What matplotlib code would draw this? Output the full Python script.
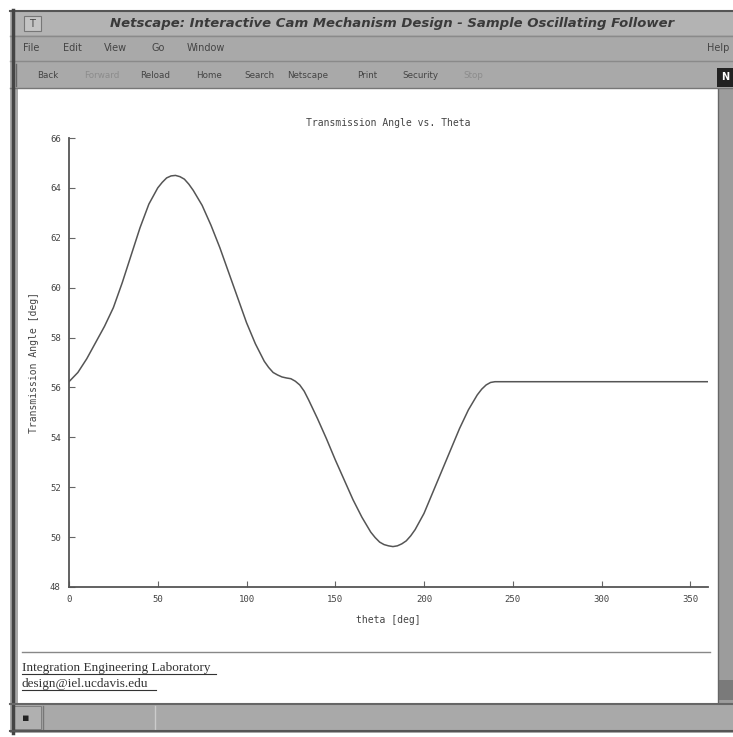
import matplotlib
matplotlib.use("Agg")
import matplotlib.pyplot as plt
from matplotlib.patches import Rectangle

# Transmission angle vs theta
theta = [0, 5, 10, 15, 20, 25, 30, 35, 40, 45, 50, 52.5, 55, 57.5, 60, 62.5,
         65, 67.5, 70, 75, 80, 85, 90, 95, 100, 105, 110, 112.5, 115, 117.5,
         120, 122.5, 125, 127.5, 130, 132.5, 135, 140, 145, 150, 155, 160,
         165, 170, 172.5, 175, 177.5, 180, 182.5, 185, 187.5, 190, 192.5,
         195, 200, 205, 210, 215, 220, 225, 230, 232.5, 235, 237.5, 240, 360]
angle = [56.23, 56.6, 57.15, 57.8, 58.45, 59.2, 60.2, 61.3, 62.4, 63.35,
         64.0, 64.22, 64.4, 64.48, 64.5, 64.45, 64.35, 64.15, 63.9, 63.3,
         62.5, 61.6, 60.6, 59.6, 58.6, 57.75, 57.05, 56.8, 56.6, 56.5,
         56.42, 56.38, 56.35, 56.25, 56.1, 55.85, 55.5, 54.75, 53.95, 53.1,
         52.3, 51.5, 50.8, 50.2, 49.98, 49.8, 49.7, 49.65, 49.62, 49.65,
         49.73, 49.85, 50.05, 50.3, 50.95, 51.8, 52.65, 53.5, 54.35, 55.1,
         55.7, 55.93, 56.1, 56.2, 56.23, 56.23]

xticks = [0, 50, 100, 150, 200, 250, 300, 350]
yticks = [48, 50, 52, 54, 56, 58, 60, 62, 64, 66]

window_title = "Netscape: Interactive Cam Mechanism Design - Sample Oscillating Follower"
menu_items = ["File", "Edit", "View", "Go", "Window"]
menu_x = [23, 63, 104, 152, 187]
tool_items = ["Back", "Forward", "Reload", "Home", "Search", "Netscape",
              "Print", "Security", "Stop"]
tool_x = [37, 84, 140, 196, 244, 287, 357, 402, 463]
tool_disabled = ["Forward", "Stop"]

W, H = 733, 737
fig = plt.figure(figsize=(W / 100, H / 100), dpi=100)
fig.patch.set_facecolor("white")


def box(x0, y0, x1, y1, fc, ec="none", lw=0):
    # pixel coords, origin top-left
    fig.patches.append(Rectangle((x0 / W, 1 - y1 / H), (x1 - x0) / W, (y1 - y0) / H,
                                 transform=fig.transFigure, facecolor=fc,
                                 edgecolor=ec, linewidth=lw, zorder=-1))


def txt(x, y, s, **kw):
    fig.text(x / W, 1 - y / H, s, **kw)


def hline(x0, x1, y, c, lw=1):
    fig.add_artist(plt.Line2D([x0 / W, x1 / W], [1 - y / H, 1 - y / H],
                              transform=fig.transFigure, color=c, linewidth=lw))


def vline(x, y0, y1, c, lw=1):
    fig.add_artist(plt.Line2D([x / W, x / W], [1 - y0 / H, 1 - y1 / H],
                              transform=fig.transFigure, color=c, linewidth=lw))


# window chrome
box(10, 10, 733, 733, "#a9a9a9")
box(10, 12, 733, 35, "#b3b3b3")
hline(10, 733, 11, "#555555", 1.5)
box(24, 16, 41, 31, "#c4c4c4", "#777777", 0.8)
txt(32, 24, "T", fontsize=7, color="#444444", ha="center", va="center")
txt(392, 23, window_title, fontsize=9.5, fontweight="bold", color="#3a3a3a",
    ha="center", va="center", style="italic")
hline(10, 733, 36, "#8a8a8a", 1)
hline(10, 733, 61, "#8a8a8a", 1)
for xi, m in zip(menu_x, menu_items):
    txt(xi, 48, m, fontsize=7, color="#444444", va="center")
txt(729, 48, "Help", fontsize=7, color="#444444", va="center", ha="right")
hline(10, 733, 88, "#777777", 1)
vline(16, 64, 86, "#666666", 1)
for xi, t in zip(tool_x, tool_items):
    txt(xi, 75, t, fontsize=6.3, va="center",
        color="#8c8c8c" if t in tool_disabled else "#444444")
box(717, 68, 733, 87, "#222222")
txt(725, 77, "N", fontsize=7, color="white", ha="center", va="center",
    fontweight="bold")

# content area
box(18, 89, 718, 703, "white")
vline(13, 10, 733, "#444444", 2.5)
box(718, 89, 733, 703, "#9c9c9c")
vline(718, 89, 703, "#666666", 1)
box(719, 680, 733, 700, "#7a7a7a")

# status bar
hline(10, 733, 704, "#666666", 1.5)
box(14, 706, 41, 729, "#b0b0b0", "#777777", 0.6)
txt(22, 718, "\u25aa", fontsize=8, color="#222222", va="center")
vline(43, 706, 729, "#777777", 1)
vline(155, 706, 729, "#cccccc", 1)
hline(10, 733, 731, "#555555", 1.5)

# footer
hline(22, 710, 652, "#888888", 1)
txt(22, 668, "Integration Engineering Laboratory", fontsize=9.5,
    family="Liberation Serif", color="#333333", va="center")
hline(22, 216, 674, "#333333", 0.8)
txt(22, 684, "design@iel.ucdavis.edu", fontsize=9.5,
    family="Liberation Serif", color="#333333", va="center")
hline(22, 156, 690, "#333333", 0.8)

# chart
ax = fig.add_axes([69 / W, 1 - 587 / H, (708 - 69) / W, (587 - 138) / H])
ax.set_zorder(5)
ax.patch.set_alpha(0)
ax.plot(theta, angle, color="#555555", linewidth=1.1)
ax.set_xlim(0, 360)
ax.set_ylim(48, 66)
ax.set_xticks(xticks)
ax.set_yticks(yticks)
for s in ["top", "right"]:
    ax.spines[s].set_visible(False)
for s in ["left", "bottom"]:
    ax.spines[s].set_color("#555555")
    ax.spines[s].set_linewidth(1.3)
ax.tick_params(direction="in", length=4, color="#666666", labelsize=6.5,
               labelcolor="#444444", pad=6)
for lab in ax.get_xticklabels() + ax.get_yticklabels():
    lab.set_family("DejaVu Sans Mono")
ax.set_title("Transmission Angle vs. Theta", fontsize=7, family="DejaVu Sans Mono",
             color="#444444", pad=9)
ax.set_xlabel("theta [deg]", fontsize=7, family="DejaVu Sans Mono",
              color="#444444", labelpad=8)
ax.set_ylabel("Transmission Angle [deg]", fontsize=7, family="DejaVu Sans Mono",
              color="#444444", labelpad=8)

fig.savefig("out.png", dpi=100)
